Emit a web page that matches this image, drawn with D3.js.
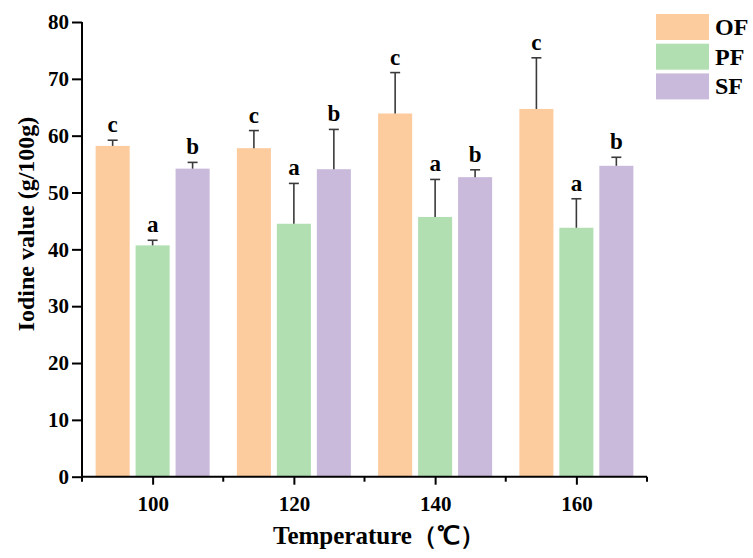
<!DOCTYPE html>
<html><head><meta charset="utf-8">
<script src="https://cdn.jsdelivr.net/npm/d3@7"></script>
<style>body{margin:0;background:#fff}svg{display:block}</style>
</head><body>
<svg id="c" width="753" height="558"></svg>
<script>
const temps = [100, 120, 140, 160];
const seriesNames = ["OF", "PF", "SF"];
const OF = [58.2, 57.8, 63.9, 64.7];
const OF_err = [1.0, 3.1, 7.2, 9.0];
const PF = [40.7, 44.5, 45.7, 43.8];
const PF_err = [0.9, 7.1, 6.6, 5.1];
const SF = [54.2, 54.1, 52.7, 54.7];
const SF_err = [1.1, 7.0, 1.3, 1.5];
const OF_sig = ["c", "c", "c", "c"];
const PF_sig = ["a", "a", "a", "a"];
const SF_sig = ["b", "b", "b", "b"];
const yTicks = [0, 10, 20, 30, 40, 50, 60, 70, 80];
const xMajor = [100, 120, 140, 160];
const xMinor = [90, 110, 130, 150, 170];
const colors = ["#fccb9e", "#b1dfb1", "#c9b9db"];

const vals = [OF, PF, SF], errs = [OF_err, PF_err, SF_err], sigs = [OF_sig, PF_sig, SF_sig];
const svg = d3.select("#c");
const font = "'Liberation Serif','Times New Roman',serif";
const x = d3.scaleLinear().domain([90, 170]).range([82, 647]);
const y = d3.scaleLinear().domain([0, 80]).range([476.7, 22]);
const step = 5.66, bw = 4.82;

const g = svg.append("g");
seriesNames.forEach((s, si) => {
  temps.forEach((t, i) => {
    const cx = t + (si - 1) * step;
    const x0 = x(cx - bw / 2), x1 = x(cx + bw / 2);
    g.append("rect").attr("x", x0).attr("width", x1 - x0)
      .attr("y", y(vals[si][i])).attr("height", y(0) - y(vals[si][i]))
      .attr("fill", colors[si]);
    const xc = x(cx), top = y(vals[si][i] + errs[si][i]);
    g.append("line").attr("x1", xc).attr("x2", xc).attr("y1", y(vals[si][i])).attr("y2", top)
      .attr("stroke", "#3a3a3a").attr("stroke-width", 1.6);
    g.append("line").attr("x1", xc - 5).attr("x2", xc + 5).attr("y1", top).attr("y2", top)
      .attr("stroke", "#3a3a3a").attr("stroke-width", 1.6);
    g.append("text").attr("x", xc).attr("y", top - 8).attr("text-anchor", "middle")
      .attr("font-family", font).attr("font-weight", "bold").attr("font-size", 23)
      .text(sigs[si][i]);
  });
});

// Y axis
const ya = svg.append("g").attr("transform", `translate(${x(90)},0)`)
  .call(d3.axisLeft(y).tickValues(yTicks).tickSize(10).tickPadding(3).tickFormat(d3.format("d")));
ya.select(".domain").attr("stroke", "#000").attr("stroke-width", 2).attr("d", `M0,${y(0)}V${y(80)}`);
ya.selectAll(".tick line").attr("stroke", "#000").attr("stroke-width", 2);
ya.selectAll("text").attr("font-family", font).attr("font-weight", "bold").attr("font-size", 21).attr("fill", "#000");

// X axis
const xa = svg.append("g").attr("transform", `translate(0,${y(0)})`)
  .call(d3.axisBottom(x).tickValues(xMajor).tickSize(8).tickPadding(11).tickFormat(d3.format("d")));
xa.select(".domain").attr("stroke", "#000").attr("stroke-width", 2).attr("d", `M${x(90)},0H${x(170)}`);
xa.selectAll(".tick line").attr("stroke", "#000").attr("stroke-width", 2);
xa.selectAll("text").attr("font-family", font).attr("font-weight", "bold").attr("font-size", 21).attr("fill", "#000");
svg.append("g").selectAll("line").data(xMinor).join("line")
  .attr("x1", d => x(d)).attr("x2", d => x(d)).attr("y1", y(0)).attr("y2", y(0) + 5)
  .attr("stroke", "#000").attr("stroke-width", 2);

// Titles
svg.append("text").attr("transform", "translate(34,224) rotate(-90)").attr("text-anchor", "middle")
  .attr("font-family", font).attr("font-weight", "bold").attr("font-size", 24).text("Iodine value (g/100g)");
svg.append("text").attr("x", 379).attr("y", 544).attr("text-anchor", "middle")
  .attr("font-family", font).attr("font-weight", "bold").attr("font-size", 25).text("Temperature（℃）");

// Legend
const lg = svg.append("g");
seriesNames.forEach((s, si) => {
  const yy = 14 + si * 29.7;
  lg.append("rect").attr("x", 656).attr("y", yy).attr("width", 53).attr("height", 26).attr("fill", colors[si]);
  lg.append("text").attr("x", 715).attr("y", yy + 21).attr("font-family", font).attr("font-weight", "bold")
    .attr("font-size", 24).text(s);
});
</script>
</body></html>
